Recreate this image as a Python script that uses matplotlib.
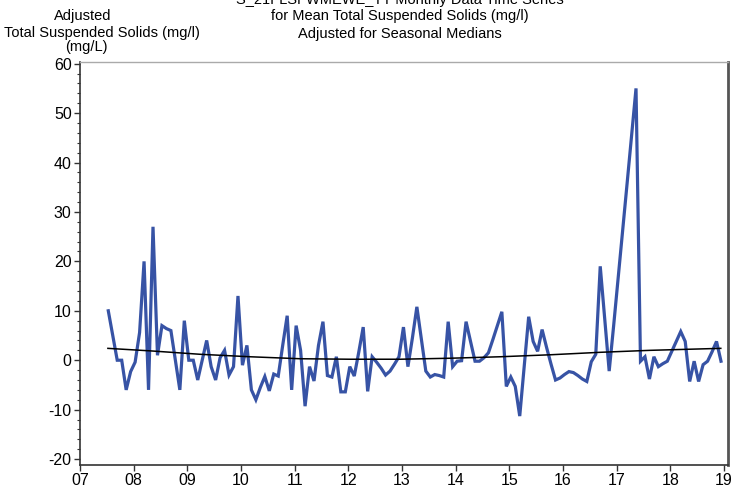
import numpy as np
import matplotlib
matplotlib.use("Agg")
import matplotlib.pyplot as plt
from matplotlib.ticker import MultipleLocator

plt.rcParams['font.family'] = ['Liberation Sans', 'DejaVu Sans']

# monthly adjusted TSS values (mg/l), starting mid 2007
start_year = 7.527
tss_adj = [10, 5, 0, 0, -6, -2.3, -0.4, 5.6, 20, -6,
           27, 1, 7, 6.4, 6, 0, -6, 8, 0, 0,
           -4, 0, 4, -1.3, -4, 0.5, 2, -3, -1.3, 13,
           -1, 3, -6, -8, -5.5, -3.3, -6.2, -2.8, -3.2, 3,
           9, -6, 7, 2, -9.3, -1.3, -4.2, 3, 7.8, -3.1,
           -3.4, 0.7, -6.4, -6.4, -1.3, -3.2, 1.6, 6.7, -6.3, 0.7,
           -0.4, -1.6, -3.0, -2.2, -0.8, 0.7, 6.7, -1.3, 4.5, 10.8,
           4.3, -2.2, -3.4, -2.9, -3.1, -3.4, 7.8, -1.3, -0.2, -0.1,
           7.8, 3.8, -0.2, -0.2, 0.5, 1.5, 4.2, 7.0, 9.8, -5.3,
           -3.4, -5.3, -11.3, -1.3, 8.8, 3.8, 1.8, 6.2, 2.6, -0.8,
           -4.0, -3.6, -2.9, -2.3, -2.5, -3.1, -3.8, -4.3, -0.3, 1.2,
           19, 8.5, -2.2, 7, 16.5, 26.2, 35.7, 45.4, 55, -0.2,
           0.7, -3.8, 0.7, -1.3, -0.7, -0.2, 1.8, 3.8, 5.8, 3.8,
           -4.3, -0.2, -4.3, -0.9, -0.2, 1.7, 3.8, -0.2]
t = start_year + np.arange(len(tss_adj)) / 12.0

# smooth trend line
trend_year = [7.52, 8.30, 9.24, 10.17, 11.10, 12.03, 12.96, 13.89, 14.83, 15.76, 16.69, 17.62, 18.94]
trend_val = [2.4, 1.9, 1.2, 0.7, 0.3, 0.2, 0.2, 0.4, 0.7, 1.1, 1.6, 2.0, 2.4]

year_ticks = list(range(7, 20))
year_labels = ['%02d' % y for y in year_ticks]

fig = plt.figure(figsize=(7.34, 4.87), dpi=100)
ax = fig.add_axes([80/734, 1 - 465/487, 647.5/734, 403.3/487])

ax.plot(t, tss_adj, color='#3753a5', linewidth=2.3, solid_joinstyle='miter', zorder=3)
ax.plot(trend_year, trend_val, color='black', linewidth=1.1, zorder=4)

ax.set_xlim(7, 19.065)
ax.set_ylim(-21.2, 60.4)
ax.set_xticks(year_ticks)
ax.set_xticklabels(year_labels)
ax.yaxis.set_minor_locator(MultipleLocator(2))
ax.set_yticks(range(-20, 61, 10))
ax.set_yticklabels(['-20', '-10', '0', '10', '20', '30', '40', '50', '60'])

ax.tick_params(axis='both', which='major', labelsize=11.5, length=4, width=1, colors='#333333', labelcolor='black')
ax.tick_params(axis='y', which='minor', length=2.5, width=0.8, colors='#333333')
ax.tick_params(axis='x', pad=2)
ax.tick_params(axis='y', pad=2)

for side in ['left', 'bottom']:
    ax.spines[side].set_color('#333333')
    ax.spines[side].set_linewidth(1.2)
ax.spines['right'].set_color('#555555')
ax.spines['right'].set_linewidth(2.0)
ax.spines['top'].set_color('#aaaaaa')
ax.spines['top'].set_linewidth(1.0)

# title block (top line is clipped by the figure edge, as in the source)
fig.text(400/734, 1 - 0/487, 'S_21FLSFWMEWE_TT Monthly Data Time Series', ha='center', va='center', fontsize=10.5)
fig.text(400/734, 1 - 16/487, 'for Mean Total Suspended Solids (mg/l)', ha='center', va='center', fontsize=10.5)
fig.text(400/734, 1 - 34/487, 'Adjusted for Seasonal Medians', ha='center', va='center', fontsize=10.5)

# y axis label block
fig.text(83/734, 1 - 16/487, 'Adjusted', ha='center', va='center', fontsize=10.5)
fig.text(102/734, 1 - 33/487, 'Total Suspended Solids (mg/l)', ha='center', va='center', fontsize=10.5)
fig.text(86/734, 1 - 47/487, '(mg/L)', ha='center', va='center', fontsize=10.5)

fig.savefig('out.png', dpi=100)
